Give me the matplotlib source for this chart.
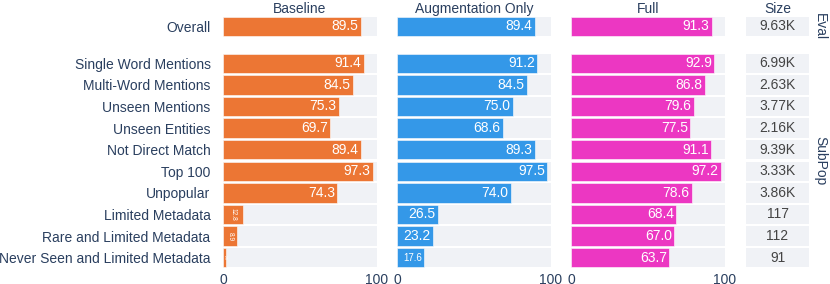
import matplotlib
matplotlib.use("Agg")
import matplotlib.pyplot as plt

plt.rcParams['font.family'] = ['Liberation Sans', 'DejaVu Sans']

eval_labels = ["Overall"]
subpop_labels = ["Single Word Mentions", "Multi-Word Mentions", "Unseen Mentions",
                 "Unseen Entities", "Not Direct Match", "Top 100", "Unpopular",
                 "Limited Metadata", "Rare and Limited Metadata",
                 "Never Seen and Limited Metadata"]
models = ["Baseline", "Augmentation Only", "Full"]
eval_values = {"Baseline": [89.5], "Augmentation Only": [89.4], "Full": [91.3]}
subpop_values = {
    "Baseline": [91.4, 84.5, 75.3, 69.7, 89.4, 97.3, 74.3, 12.8, 8.9, 2.0],
    "Augmentation Only": [91.2, 84.5, 75.0, 68.6, 89.3, 97.5, 74.0, 26.5, 23.2, 17.6],
    "Full": [92.9, 86.8, 79.6, 77.5, 91.1, 97.2, 78.6, 68.4, 67.0, 63.7],
}
eval_sizes = ["9.63K"]
subpop_sizes = ["6.99K", "2.63K", "3.77K", "2.16K", "9.39K", "3.33K", "3.86K", "117", "112", "91"]
group_names = ["Eval", "SubPop"]

colors = {"Baseline": "#ec7634", "Augmentation Only": "#3498e8", "Full": "#ec37c2"}
bg = "#f0f2f6"
txt = "#2a3f5f"
fs = 10

W, H = 830, 284
fig = plt.figure(figsize=(W / 100, H / 100), dpi=100)

def ax_at(x0, y0, x1, y1):
    return fig.add_axes([x0 / W, 1 - y1 / H, (x1 - x0) / W, (y1 - y0) / H])

panel_x = {"Baseline": (223, 377), "Augmentation Only": (397, 551), "Full": (571, 725)}
size_x = (746, 809)
rows = [(15.5, 37, eval_labels, eval_values, eval_sizes),
        (52.5, 268.5, subpop_labels, subpop_values, subpop_sizes)]

bh = 0.9
for gi, (y0, y1, labels, values, sizes) in enumerate(rows):
    n = len(labels)
    ypos = list(range(n))
    for mi, m in enumerate(models):
        ax = ax_at(panel_x[m][0], y0, panel_x[m][1], y1)
        vals = values[m]
        ax.barh(ypos, [100] * n, height=bh, color=bg, edgecolor="none")
        ax.barh(ypos, vals, height=bh, color=colors[m], edgecolor="white", linewidth=0.4)
        for yy, v in zip(ypos, vals):
            if v < 15:
                ax.text(v / 2, yy, f"{v:.1f}", rotation=-90, ha="center", va="center",
                        color="white", fontsize=4.8 if v > 5 else 2.5)
            elif v < 20:
                ax.text(v - 1.2, yy, f"{v:.1f}", ha="right", va="center",
                        color="white", fontsize=7)
            else:
                ax.text(v - 1.5, yy, f"{v:.1f}", ha="right", va="center",
                        color="white", fontsize=fs)
        ax.set_xlim(0, 100)
        ax.set_ylim(n - 0.5, -0.5)
        for s in ax.spines.values():
            s.set_visible(False)
        ax.set_yticks([])
        if mi == 0:
            ax.set_yticks(ypos)
            ax.set_yticklabels(labels, fontsize=fs, color=txt)
        ax.tick_params(axis="y", length=0, pad=9)
        if gi == 1:
            ax.set_xticks([0, 100])
            ax.set_xticklabels(["0", "100"], fontsize=fs, color=txt)
            ax.tick_params(axis="x", length=0, pad=3)
        else:
            ax.set_xticks([])
            ax.set_title(m, fontsize=fs, color=txt, pad=1.5)
    # size panel
    ax = ax_at(size_x[0], y0, size_x[1], y1)
    ax.barh(ypos, [1] * n, height=bh, color=bg, edgecolor="none")
    for yy, s in zip(ypos, sizes):
        ax.text(0.5, yy, s, ha="center", va="center", color="#444444", fontsize=fs)
    ax.set_xlim(0, 1)
    ax.set_ylim(n - 0.5, -0.5)
    ax.set_xticks([])
    ax.set_yticks([])
    for s in ax.spines.values():
        s.set_visible(False)
    if gi == 0:
        ax.set_title("Size", fontsize=fs, color=txt, pad=1.5)
    fig.text(820 / W, 1 - ((y0 + y1) / 2) / H, group_names[gi], rotation=-90,
             ha="center", va="center", fontsize=fs, color=txt)

fig.savefig("out.png", dpi=100)
